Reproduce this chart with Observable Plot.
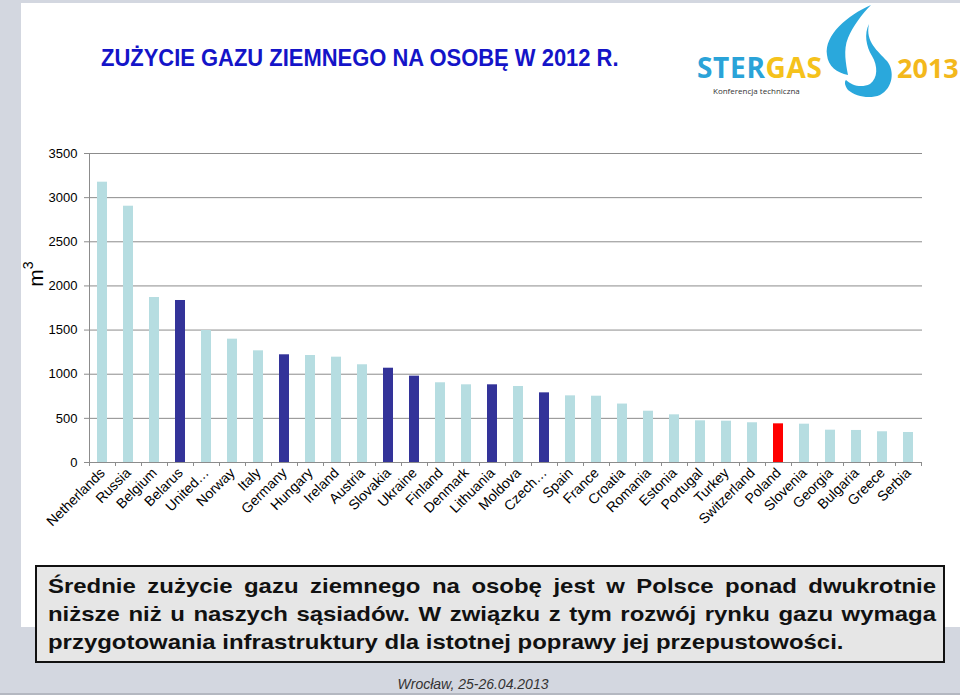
<!DOCTYPE html>
<html>
<head>
<meta charset="utf-8">
<script src="https://cdn.jsdelivr.net/npm/d3@7"></script>
<script src="https://cdn.jsdelivr.net/npm/@observablehq/plot@0.6"></script>
<style>
  html, body { margin: 0; padding: 0; }
  body { width: 960px; height: 695px; background: #d3d7e0; position: relative; overflow: hidden; font-family: "Liberation Sans", Arial, sans-serif; }
  #panel { position: absolute; left: 21px; top: 3px; width: 939px; height: 624px; background: #fff; }
  #title { position: absolute; left: 101px; top: 44px; font-family: "Liberation Sans", Arial, sans-serif; font-weight: bold; font-size: 24.5px; color: #1414c8; white-space: nowrap; transform: scaleX(0.896); transform-origin: 0 0; }
  #chart { position: absolute; left: 0; top: 0; }
  #logo { position: absolute; left: 690px; top: 0; width: 270px; height: 102px; }
  #box { position: absolute; left: 35px; top: 565px; width: 906px; height: 94px; border: 2px solid #111; background: #e6e6e6; box-sizing: content-box; }
  #box .inner { position: absolute; left: 11px; top: 0; width: 779px; height: 94px; transform: scaleX(1.14); transform-origin: 0 0; }
  #box .ln { position: absolute; left: 0; width: 779px; font-weight: bold; font-size: 21px; line-height: 28px; color: #111; white-space: nowrap; }
  #box .j { text-align: justify; text-align-last: justify; white-space: normal; }
  #footer { position: absolute; left: -7px; width: 960px; top: 676px; text-align: center; font-style: italic; font-size: 14px; color: #333; }
  #bottomline { position: absolute; left: 0; top: 693px; width: 960px; height: 2px; background: #b4b8c1; }
</style>
</head>
<body>
<div id="panel"></div>
<div id="title">ZUŻYCIE GAZU ZIEMNEGO NA OSOBĘ W 2012 R.</div>
<svg id="logo" viewBox="690 0 270 102" width="270" height="102">
  <text x="697" y="78" font-family="Open Sans, Lato, sans-serif" font-weight="bold" font-size="28" textLength="125" fill="#2aa3d8">STER<tspan fill="#f5c21b">GAS</tspan></text>
  <text x="713" y="94" font-family="Open Sans, Lato, sans-serif" font-size="8" fill="#333">Konferencja techniczna</text>
  <path d="M871,5 C848,15 824,35 827,55 C828,66 837,73 848,75 C846,64 843,50 848,38 C853,26 862,14 871,5 Z" fill="#2aa8dc"/>
  <path d="M869,24 C865,42 878,51 887,61 C895,71 893,88 880,95 C870,99 856,97 848,90 C845,86 844,82 846,80 C852,86 862,88 870,84 C878,78 878,66 872,56 C866,46 864,34 869,24 Z" fill="#2aa8dc"/>
  <text x="897" y="78" font-family="Open Sans, Lato, sans-serif" font-weight="bold" font-size="27" fill="#f3b81c">2013</text>
</svg>
<div id="chart"></div>
<div id="box">
  <div class="inner">
    <div class="ln j" style="top:5px">Średnie zużycie gazu ziemnego na osobę jest w Polsce ponad dwukrotnie</div>
    <div class="ln j" style="top:33px">niższe niż u naszych sąsiadów. W związku z tym rozwój rynku gazu wymaga</div>
    <div class="ln" style="top:61px">przygotowania infrastruktury dla istotnej poprawy jej przepustowości.</div>
  </div>
</div>
<div id="footer">Wrocław, 25-26.04.2013</div>
<div id="bottomline"></div>
<script>
const countries = ["Netherlands","Russia","Belgium","Belarus","United Kingdom","Norway","Italy","Germany","Hungary","Ireland","Austria","Slovakia","Ukraine","Finland","Denmark","Lithuania","Moldova","Czech Republic","Spain","France","Croatia","Romania","Estonia","Portugal","Turkey","Switzerland","Poland","Slovenia","Georgia","Bulgaria","Greece","Serbia"];
const tickLabels = ["Netherlands","Russia","Belgium","Belarus","United…","Norway","Italy","Germany","Hungary","Ireland","Austria","Slovakia","Ukraine","Finland","Denmark","Lithuania","Moldova","Czech…","Spain","France","Croatia","Romania","Estonia","Portugal","Turkey","Switzerland","Poland","Slovenia","Georgia","Bulgaria","Greece","Serbia"];
const values = [3175,2903,1869,1835,1495,1397,1265,1220,1212,1193,1107,1068,978,903,880,880,861,789,755,751,662,581,540,472,468,450,438,434,366,363,348,340];
const neighbours = ["Belarus","Germany","Slovakia","Ukraine","Lithuania","Czech Republic"];
const focusCountry = "Poland";
const yTicks = [0,500,1000,1500,2000,2500,3000,3500];
const groups = ["other","neighbour","focus"];
const groupColors = ["#b6dde1","#333399","#ff0000"];

const data = countries.map((c, i) => ({
  country: c,
  value: values[i],
  group: c === focusCountry ? "focus" : neighbours.includes(c) ? "neighbour" : "other"
}));
const labelOf = new Map(countries.map((c, i) => [c, tickLabels[i]]));
const gray = "#8c8c8c";

const chart = Plot.plot({
  width: 960,
  height: 560,
  marginTop: 153,
  marginBottom: 98,
  marginLeft: 88,
  marginRight: 38,
  style: { background: "transparent", fontFamily: "Liberation Sans, Arial, sans-serif", fontSize: "13px", color: "#000", overflow: "visible" },
  x: { type: "band", domain: countries, paddingInner: 0.6, paddingOuter: 0.3 },
  y: { domain: [0, 3500] },
  color: { domain: groups, range: groupColors },
  marks: [
    Plot.gridY(yTicks, { stroke: gray, strokeOpacity: 1 }),
    Plot.ruleX(countries, { x: d => d, dx: -13, y1: -45, y2: 0, stroke: gray }),
    Plot.ruleX([countries[countries.length - 1]], { x: d => d, dx: 13, y1: -45, y2: 0, stroke: gray }),
    Plot.ruleX([countries[0]], { x: d => d, dx: -13, y1: 0, y2: 3500, stroke: gray }),
    Plot.ruleY([0], { stroke: gray }),
    Plot.barY(data, { x: "country", y: "value", fill: "group" }),
    Plot.axisY(yTicks, { tickSize: 4, tickPadding: 7, stroke: gray, strokeOpacity: 1, label: null, fontSize: 13, tickFormat: d => String(d) }),
    Plot.axisX({ tickSize: 0, tickPadding: 8, tickRotate: -45, label: null, fontSize: 14, tickFormat: d => labelOf.get(d) })
  ]
});

// y-axis unit label m³
const svg = d3.select(chart);
const lab = svg.append("text")
  .attr("transform", "translate(43,274) rotate(-90)")
  .attr("text-anchor", "middle")
  .attr("font-family", "Liberation Sans, Arial, sans-serif")
  .attr("font-size", 21)
  .attr("fill", "#000");
lab.append("tspan").text("m");
lab.append("tspan").attr("font-size", 14).attr("dy", -10).text("3");

document.getElementById("chart").appendChild(chart);
</script>
</body>
</html>
